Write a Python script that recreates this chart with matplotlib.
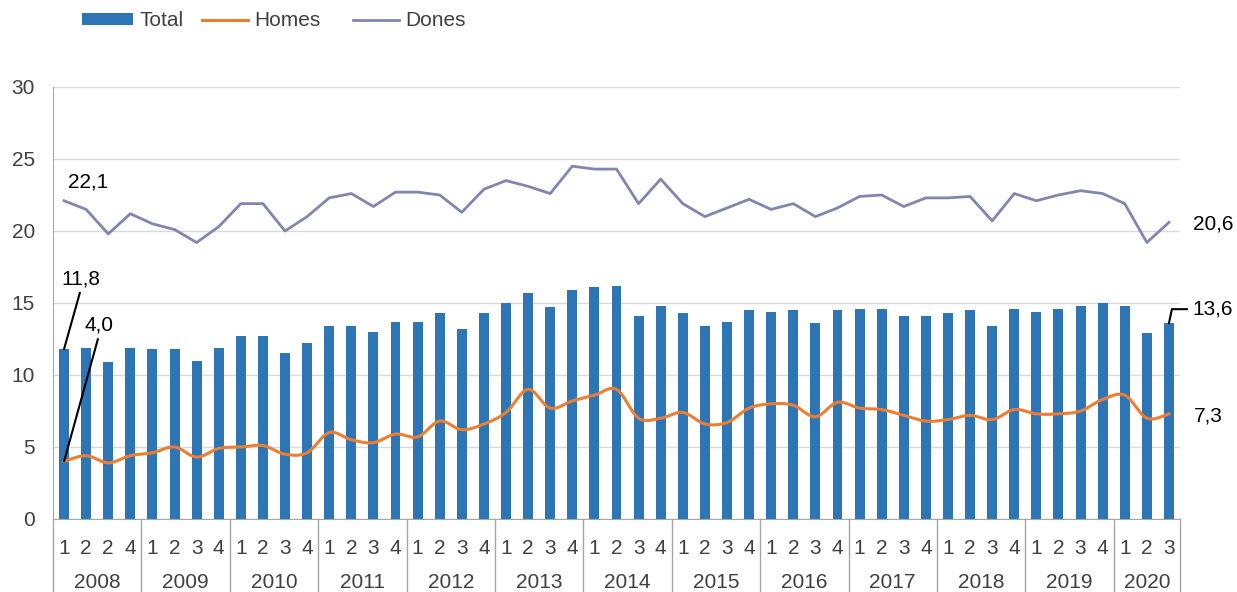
import numpy as np
import matplotlib.pyplot as plt
from matplotlib.transforms import blended_transform_factory

plt.rcParams['font.family'] = ['Liberation Sans', 'DejaVu Sans']

# quarterly data 2008 Q1 - 2020 Q3
years = ['2008', '2009', '2010', '2011', '2012', '2013', '2014',
         '2015', '2016', '2017', '2018', '2019', '2020']
quarters = ['1', '2', '2', '4'] + ['1', '2', '3', '4'] * 11 + ['1', '2', '3']

total = [11.8, 11.9, 10.9, 11.9, 11.8, 11.8, 11.0, 11.9, 12.7, 12.7, 11.5, 12.2,
         13.4, 13.4, 13.0, 13.7, 13.7, 14.3, 13.2, 14.3, 15.0, 15.7, 14.7, 15.9,
         16.1, 16.2, 14.1, 14.8, 14.3, 13.4, 13.7, 14.5, 14.4, 14.5, 13.6, 14.5,
         14.6, 14.6, 14.1, 14.1, 14.3, 14.5, 13.4, 14.6, 14.4, 14.6, 14.8, 15.0,
         14.8, 12.9, 13.6]
homes = [4.0, 4.4, 3.9, 4.4, 4.6, 5.0, 4.3, 4.9, 5.0, 5.1, 4.5, 4.6,
         6.0, 5.5, 5.3, 5.9, 5.7, 6.8, 6.2, 6.6, 7.4, 9.0, 7.7, 8.2,
         8.6, 9.0, 7.0, 7.0, 7.4, 6.6, 6.7, 7.7, 8.0, 7.9, 7.1, 8.1,
         7.7, 7.6, 7.2, 6.8, 6.9, 7.2, 6.9, 7.6, 7.3, 7.3, 7.5, 8.3,
         8.6, 7.0, 7.3]
dones = [22.1, 21.5, 19.8, 21.2, 20.5, 20.1, 19.2, 20.3, 21.9, 21.9, 20.0, 21.0,
         22.3, 22.6, 21.7, 22.7, 22.7, 22.5, 21.3, 22.9, 23.5, 23.1, 22.6, 24.5,
         24.3, 24.3, 21.9, 23.6, 21.9, 21.0, 21.6, 22.2, 21.5, 21.9, 21.0, 21.6,
         22.4, 22.5, 21.7, 22.3, 22.3, 22.4, 20.7, 22.6, 22.1, 22.5, 22.8, 22.6,
         21.9, 19.2, 20.6]


def smooth(x, y, n=20):
    # Excel-like smoothed line (Catmull-Rom as cubic bezier)
    x = np.asarray(x, float)
    y = np.asarray(y, float)
    px = np.concatenate([[x[0]], x, [x[-1]]])
    py = np.concatenate([[y[0]], y, [y[-1]]])
    t = np.linspace(0, 1, n)[:-1]
    outx, outy = [], []
    for i in range(1, len(px) - 2):
        p0x, p1x, p2x, p3x = px[i - 1], px[i], px[i + 1], px[i + 2]
        p0y, p1y, p2y, p3y = py[i - 1], py[i], py[i + 1], py[i + 2]
        c1x, c1y = p1x + (p2x - p0x) / 6, p1y + (p2y - p0y) / 6
        c2x, c2y = p2x - (p3x - p1x) / 6, p2y - (p3y - p1y) / 6
        b = [(1 - t) ** 3, 3 * (1 - t) ** 2 * t, 3 * (1 - t) * t ** 2, t ** 3]
        outx.append(b[0] * p1x + b[1] * c1x + b[2] * c2x + b[3] * p2x)
        outy.append(b[0] * p1y + b[1] * c1y + b[2] * c2y + b[3] * p2y)
    outx.append([x[-1]])
    outy.append([y[-1]])
    return np.concatenate(outx), np.concatenate(outy)


fig = plt.figure(figsize=(12.37, 5.92), dpi=100)
ax = fig.add_axes([53 / 1237, 73 / 592, 1127 / 1237, 432 / 592])

x = np.arange(len(total))
b_tot = ax.bar(x, total, width=0.45, color='#2E75B6', label='Total', zorder=2)
hx, hy = smooth(x, homes)
l_hom, = ax.plot(hx, hy, color='#ED7D31', lw=2.2, label='Homes', zorder=3)
l_don, = ax.plot(x, dones, color='#7F87B0', lw=2.0, label='Dones', zorder=3)

ax.set_xlim(-0.5, len(total) - 0.5)
ax.set_ylim(0, 30)
ax.set_yticks(range(0, 31, 5))
ax.grid(axis='y', color='#D9D9D9', lw=1)
ax.set_axisbelow(True)
for s in ['top', 'right']:
    ax.spines[s].set_visible(False)
ax.spines['left'].set_color('#A6A6A6')
ax.spines['bottom'].set_color('#A6A6A6')
ax.tick_params(axis='y', length=0, pad=13, labelsize=15, labelcolor='#404040')
ax.set_xticks([])

# two level category axis
trans = blended_transform_factory(ax.transData, ax.transAxes)
for i, q in enumerate(quarters):
    ax.text(i, -0.069, q, transform=trans, ha='center', va='center',
            fontsize=15, color='#404040')
for k, yr in enumerate(years):
    start = 4 * k
    end = min(4 * k + 3, len(total) - 1)
    ax.text((start + end) / 2, -0.146, yr, transform=trans, ha='center',
            va='center', fontsize=15, color='#404040')
bounds = list(np.arange(-0.5, len(total), 4)) + [len(total) - 0.5]
for b in bounds:
    ax.plot([b, b], [0, -0.2], transform=trans, color='#A6A6A6', lw=1,
            clip_on=False)

# data labels
lab = dict(fontsize=15, color='black', textcoords='offset pixels',
           ha='center', va='center')
last = len(total) - 1
ax.annotate('22,1', (0, dones[0]), xytext=(24, 19), **lab)
ax.annotate('11,8', (0, total[0]), xytext=(17, 70),
            arrowprops=dict(arrowstyle='-', color='black', lw=1.5,
                            relpos=(0.5, 0), shrinkA=1, shrinkB=0), **lab)
ax.annotate('4,0', (0, homes[0]), xytext=(35, 136),
            arrowprops=dict(arrowstyle='-', color='black', lw=1.5,
                            relpos=(0.5, 0), shrinkA=1, shrinkB=0), **lab)
ax.annotate('20,6', (last, dones[-1]), xytext=(44, -2), **lab)
ax.annotate('13,6', (last, total[-1]), xytext=(44, 14),
            arrowprops=dict(arrowstyle='-', color='black', lw=1.5,
                            relpos=(0, 0.5), shrinkA=2, shrinkB=0,
                            connectionstyle='angle,angleA=0,angleB=78,rad=0'),
            **lab)
ax.annotate('7,3', (last, homes[-1]), xytext=(39, -2), **lab)

# legend entries placed like the Excel legend
for h, name, x0, hl in [(b_tot, 'Total', 82, 2.45), (l_hom, 'Homes', 202, 2.2),
                        (l_don, 'Dones', 353, 2.2)]:
    leg = fig.legend([h], [name], loc='center left',
                     bbox_to_anchor=(x0 / 1237, 1 - 21 / 592), frameon=False,
                     fontsize=15, handlelength=hl, handleheight=0.55,
                     handletextpad=0.3, borderpad=0, borderaxespad=0,
                     labelcolor='#404040')

fig.savefig('out.png', dpi=100)
